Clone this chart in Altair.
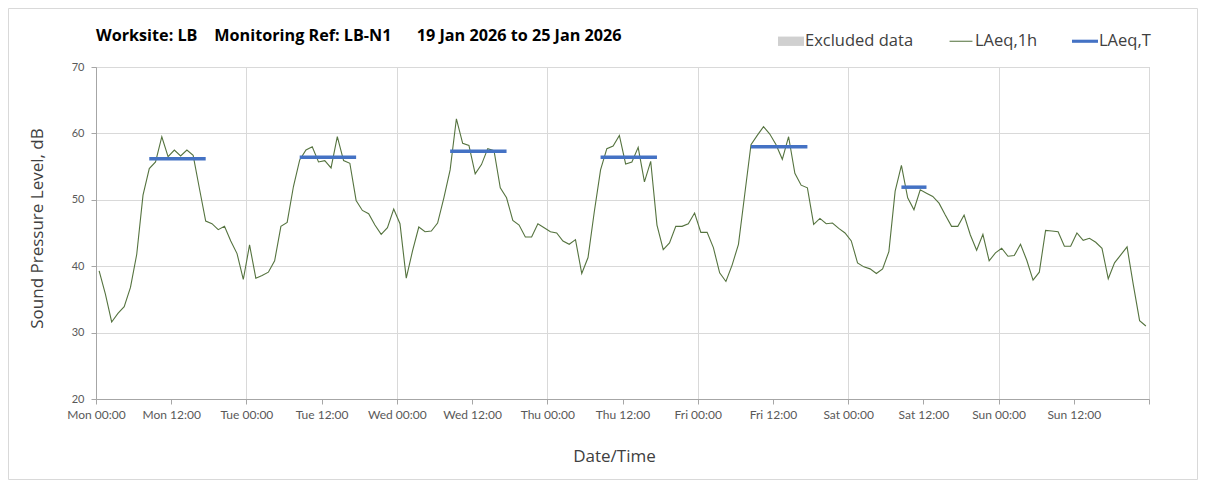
import altair as alt
import pandas as pd

# ---------------- data ----------------
x_tick_labels = ["Mon 00:00", "Mon 12:00", "Tue 00:00", "Tue 12:00", "Wed 00:00", "Wed 12:00",
                 "Thu 00:00", "Thu 12:00", "Fri 00:00", "Fri 12:00", "Sat 00:00", "Sat 12:00",
                 "Sun 00:00", "Sun 12:00", ""]
x_tick_hours = [0, 12, 24, 36, 48, 60, 72, 84, 96, 108, 120, 132, 144, 156, 168]
y_ticks = [20, 25, 30, 35, 40, 45, 50, 55, 60, 65, 70]

# hourly LAeq,1h values, Mon 19 Jan 2026 00:00 -> Sun 25 Jan 2026 23:00
laeq_1h = [
    39.3, 35.8, 31.6, 32.9, 33.9, 36.8, 41.8, 50.7, 54.7, 55.7, 59.5, 56.5,
    57.5, 56.6, 57.5, 56.7, 51.7, 46.8, 46.4, 45.5, 46.0, 43.8, 41.9, 38.0,
    43.2, 38.2, 38.6, 39.1, 40.8, 46.0, 46.6, 52.0, 56.0, 57.5, 58.0, 55.7,
    55.9, 54.8, 59.5, 55.9, 55.5, 49.9, 48.4, 47.9, 46.2, 44.8, 45.8, 48.6,
    46.4, 38.2, 42.3, 45.9, 45.2, 45.3, 46.5, 50.3, 54.5, 62.2, 58.5, 58.2,
    53.9, 55.3, 57.7, 57.4, 51.8, 50.3, 46.9, 46.2, 44.4, 44.4, 46.4, 45.8,
    45.2, 45.0, 43.8, 43.3, 44.0, 38.9, 41.3, 48.2, 54.5, 57.7, 58.1, 59.7,
    55.4, 55.7, 57.9, 52.7, 55.8, 46.2, 42.5, 43.5, 46.0, 46.0, 46.4, 48.0,
    45.1, 45.1, 42.8, 39.0, 37.7, 40.2, 43.3, 50.8, 58.3, 59.7, 61.0, 59.9,
    58.3, 56.1, 59.5, 54.0, 52.2, 51.8, 46.3, 47.2, 46.4, 46.5, 45.7, 45.0,
    43.8, 40.5, 39.9, 39.6, 38.9, 39.6, 42.2, 51.3, 55.2, 50.3, 48.5, 51.5,
    51.0, 50.5, 49.5, 47.7, 46.0, 46.0, 47.7, 44.7, 42.4, 44.8, 40.8, 42.0,
    42.7, 41.5, 41.6, 43.3, 40.9, 37.9, 39.1, 45.4, 45.3, 45.2, 43.0, 43.0,
    45.0, 43.9, 44.2, 43.6, 42.7, 38.1, 40.5, 41.7, 42.9, 37.2, 31.8, 31.0,
]
# each hourly value is plotted at the middle of its hour
hour_mid = [h + 0.5 for h in range(len(laeq_1h))]

# LAeq,T periods (hours since Mon 00:00)
period_start = [8.5, 32.5, 56.5, 80.5, 104.5, 128.5]
period_end = [17.5, 41.5, 65.5, 89.5, 113.5, 132.5]
period_laeq = [56.2, 56.4, 57.3, 56.4, 58.0, 51.9]

legend_names = ["Excluded data", "LAeq,1h", "LAeq,T"]
legend_colors = ["#d0d0d0", "#55733f", "#4472c4"]
legend_shapes = ["M-1,-0.36H1V0.36H-1Z", "M-0.88,-0.04H0.88V0.04H-0.88Z", "M-1,-0.12H1V0.12H-1Z"]

title_text = "Worksite: LB\u00a0\u00a0\u00a0\u00a0Monitoring Ref: LB-N1\u00a0\u00a0\u00a0\u00a0\u00a0\u00a019 Jan 2026 to 25 Jan 2026"

FONT = "Lato"
FONT2 = "Open Sans"
W, H = 1053, 332
PAD = {"left": 88, "top": 59, "right": 49, "bottom": 81}

hourly_df = pd.DataFrame({"hour": hour_mid, "laeq": laeq_1h})
period_df = pd.DataFrame({"start": period_start, "end": period_end, "laeq": period_laeq})
legend_df = pd.DataFrame({"series": legend_names, "hour": [None] * 3, "laeq": [None] * 3})
single_df = pd.DataFrame({"k": [0]})

label_expr = "[" + ",".join("'" + s + "'" for s in x_tick_labels) + "][round(datum.value / 12)]"

x_scale = alt.Scale(domain=[0, 168], nice=False, zero=False)
y_scale = alt.Scale(domain=[20, 70], nice=False, zero=False)

x_axis = alt.Axis(
    values=x_tick_hours, labelExpr=label_expr, grid=True, gridColor="#d9d9d9", gridWidth=1,
    gridOpacity={"condition": {"test": "datum.value % 24 === 0", "value": 1}, "value": 0},
    tickSize=5, tickColor="#a6a6a6", domainColor="#a6a6a6", labelFont=FONT, labelFontSize=12,
    labelColor="#595959", labelPadding=5, labelFlush=False, title="Date/Time",
    titleFont=FONT2, titleFontSize=17, titleFontWeight="normal", titleColor="#404040",
    titlePadding=28, titleX=518, titleAnchor="middle",
)
y_axis = alt.Axis(
    values=y_ticks, grid=True, gridColor="#d9d9d9", gridWidth=1, tickSize=5, tickColor="#a6a6a6",
    domainColor="#a6a6a6", labelFont=FONT, labelFontSize=11, labelColor="#595959", labelPadding=7,
    title="Sound Pressure Level, dB", titleFont=FONT2, titleFontSize=17, titleFontWeight="normal",
    titleColor="#404040", titlePadding=25, titleY=161,
)

frame = alt.Chart(single_df).mark_rect(fillOpacity=0, stroke="#d9d9d9", strokeWidth=1).encode(
    x=alt.value(-87.5), x2=alt.value(W + PAD["right"] - 0.5),
    y=alt.value(-58.5), y2=alt.value(H + PAD["bottom"] - 0.5),
)

title = alt.Chart(single_df).mark_text(
    text=title_text, align="left", baseline="alphabetic", font=FONT2, fontSize=16.2,
    fontWeight="bold", color="#000000",
).encode(x=alt.value(0), y=alt.value(-26))

line = alt.Chart(hourly_df).mark_line(color=legend_colors[1], strokeWidth=1.1).encode(
    x=alt.X("hour:Q", scale=x_scale, axis=x_axis),
    y=alt.Y("laeq:Q", scale=y_scale, axis=y_axis),
)

rules = alt.Chart(period_df).mark_rule(color=legend_colors[2], strokeWidth=3.5).encode(
    x=alt.X("start:Q", scale=x_scale), x2="end:Q", y=alt.Y("laeq:Q", scale=y_scale),
)

legend_layer = alt.Chart(legend_df).mark_point(filled=True, opacity=1).encode(
    x=alt.X("hour:Q", scale=x_scale),
    y=alt.Y("laeq:Q", scale=y_scale),
    color=alt.Color("series:N", scale=alt.Scale(domain=legend_names, range=legend_colors),
                    legend=alt.Legend(title=None, orient="none", legendX=682, legendY=-39,
                                      direction="horizontal", symbolSize=676, symbolStrokeWidth=0,
                                      labelFont=FONT2, labelFontSize=16.5, labelColor="#404040",
                                      labelOffset=1, columnPadding=34)),
    shape=alt.Shape("series:N", scale=alt.Scale(domain=legend_names, range=legend_shapes)),
)

chart = alt.layer(frame, title, line, rules, legend_layer).properties(
    width=W, height=H,
    autosize=alt.AutoSizeParams(type="none"),
    padding=PAD,
).configure_view(stroke="#bfbfbf", strokeWidth=1)

chart.save("out.html", embed_options={"renderer": "svg", "actions": False})
